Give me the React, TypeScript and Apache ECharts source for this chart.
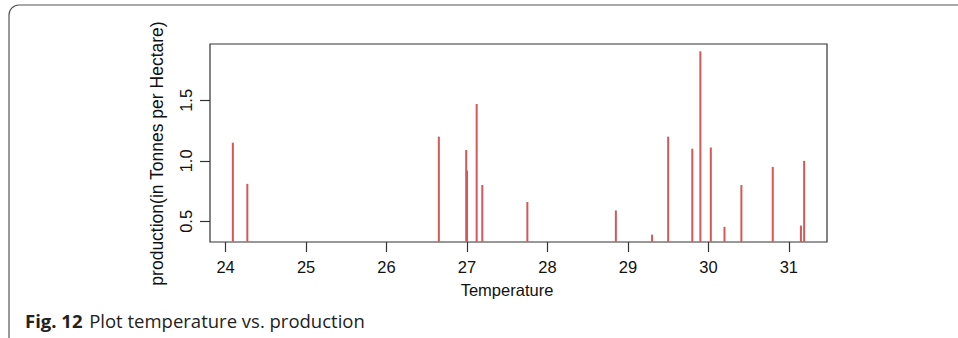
import React, { useEffect, useRef } from "react";
import * as echarts from "echarts";

const temperature = [24.09, 24.27, 26.65, 26.99, 27.0, 27.12, 27.19, 27.75, 28.85, 29.3, 29.5, 29.8, 29.9, 30.03, 30.2, 30.41, 30.8, 31.15, 31.19];
const production = [1.15, 0.81, 1.2, 1.09, 0.92, 1.47, 0.8, 0.66, 0.59, 0.39, 1.2, 1.1, 1.905, 1.11, 0.455, 0.8, 0.95, 0.465, 1.0];
const xTicks = [24, 25, 26, 27, 28, 29, 30, 31];
const yTicks = [0.5, 1.0, 1.5];

const xLabel = "Temperature";
const yLabel = "production(in Tonnes per Hectare)";
const captionBold = "Fig. 12";
const captionText = "Plot temperature vs. production";

function rExtent(arr: number[]): [number, number] {
  const lo = Math.min(...arr);
  const hi = Math.max(...arr);
  const pad = (hi - lo) * 0.04;
  return [lo - pad, hi + pad];
}

export default function App() {
  const ref = useRef<HTMLDivElement>(null);
  useEffect(() => {
    if (!ref.current) return;
    const chart = echarts.init(ref.current, undefined, { renderer: "svg" });
    const [xmin, xmax] = rExtent(temperature);
    const [ymin, ymax] = rExtent(production);
    const font = "'Liberation Sans', Arial, sans-serif";
    chart.setOption({
      animation: false,
      backgroundColor: "#ffffff",
      grid: {
        left: 210,
        top: 44,
        width: 617,
        height: 198,
        show: true,
        borderColor: "#333333",
        borderWidth: 1.2,
        backgroundColor: "transparent",
      },
      xAxis: {
        type: "value",
        min: xmin,
        max: xmax,
        axisLine: { show: false },
        splitLine: { show: false },
        axisTick: {
          show: true,
          inside: false,
          length: 10,
          customValues: xTicks,
          lineStyle: { color: "#333333", width: 1.2 },
        },
        axisLabel: {
          customValues: xTicks,
          margin: 16,
          fontFamily: font,
          fontSize: 16.5,
          color: "#111111",
          formatter: (v: number) => String(v),
        },
      },
      yAxis: {
        type: "value",
        min: ymin,
        max: ymax,
        axisLine: { show: false },
        splitLine: { show: false },
        axisTick: {
          show: true,
          inside: false,
          length: 10,
          customValues: yTicks,
          lineStyle: { color: "#333333", width: 1.2 },
        },
        axisLabel: {
          customValues: yTicks,
          rotate: 90,
          margin: 16,
          fontFamily: font,
          fontSize: 16.5,
          color: "#111111",
          formatter: (v: number) => v.toFixed(1),
        },
      },
      series: [
        {
          type: "custom",
          clip: true,
          data: temperature.map((t, i) => [t, production[i]]),
          renderItem: (params: any, api: any) => {
            const x = api.value(0);
            const y = api.value(1);
            const top = api.coord([x, y]);
            const bottom = api.coord([x, 0]);
            return {
              type: "line",
              shape: { x1: top[0], y1: top[1], x2: bottom[0], y2: bottom[1] },
              style: { stroke: "#d45858", lineWidth: 2 },
            };
          },
        },
      ],
      graphic: [
        {
          type: "rect",
          shape: { x: 9, y: 5, width: 1000, height: 400, r: 10 },
          style: { fill: "none", stroke: "#555555", lineWidth: 1.2 },
          silent: true,
        },
        {
          type: "text",
          x: 507,
          y: 289.5,
          style: {
            text: xLabel,
            fontFamily: font,
            fontSize: 16.5,
            fill: "#111111",
            align: "center",
            verticalAlign: "middle",
          },
        },
        {
          type: "text",
          x: 157,
          y: 153.5,
          rotation: Math.PI / 2,
          style: {
            text: yLabel,
            fontFamily: font,
            fontSize: 17.5,
            fill: "#111111",
            align: "center",
            verticalAlign: "middle",
          },
        },
        {
          type: "text",
          x: 25,
          y: 320,
          style: {
            text: "{b|" + captionBold + "}  {n|" + captionText + "}",
            verticalAlign: "middle",
            rich: {
              b: { fontFamily: "'Open Sans', sans-serif", fontWeight: "bold", fontSize: 18.5, fill: "#222222" },
              n: { fontFamily: "'Open Sans', sans-serif", fontSize: 18.5, fill: "#222222" },
            },
          },
        },
      ],
    });
    return () => chart.dispose();
  }, []);
  return (
    <div
      ref={ref}
      style={{ position: "absolute", left: 0, top: 0, width: 958, height: 338 }}
    />
  );
}
